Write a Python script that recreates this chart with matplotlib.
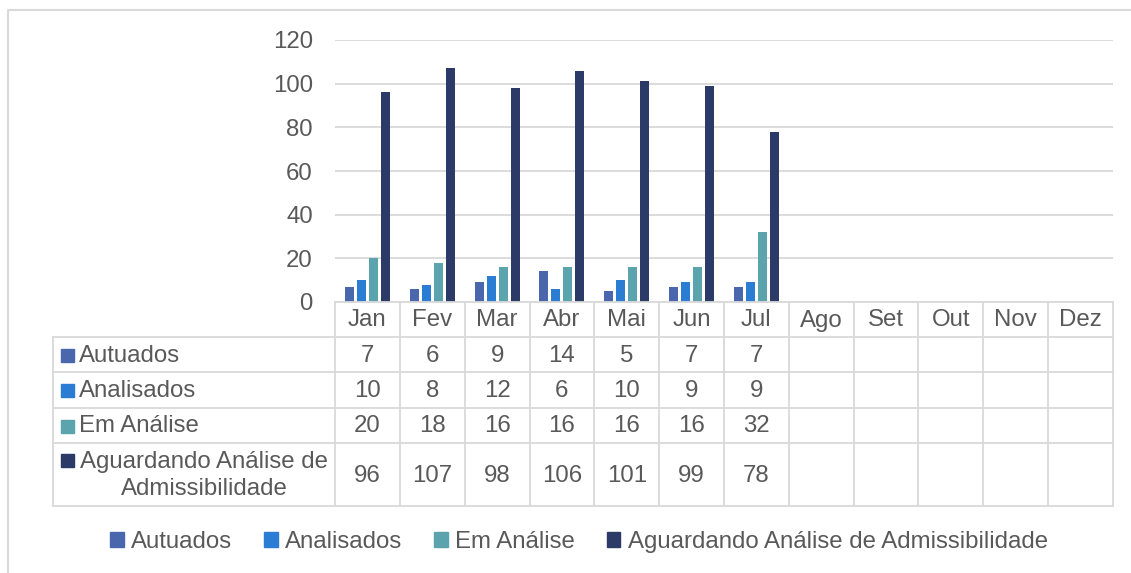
import numpy as np
import matplotlib.pyplot as plt
from matplotlib.patches import Patch, Rectangle
from matplotlib.lines import Line2D

# Data
months = ['Jan', 'Fev', 'Mar', 'Abr', 'Mai', 'Jun', 'Jul', 'Ago', 'Set', 'Out', 'Nov', 'Dez']
series = ['Autuados', 'Analisados', 'Em Análise', 'Aguardando Análise de Admissibilidade']
autuados = [7, 6, 9, 14, 5, 7, 7]
analisados = [10, 8, 12, 6, 10, 9, 9]
em_analise = [20, 18, 16, 16, 16, 16, 32]
aguardando = [96, 107, 98, 106, 101, 99, 78]
values = [autuados, analisados, em_analise, aguardando]
colors = ['#4a66ac', '#2b7cd3', '#5ba3ad', '#2b3a67']

W, H = 1131, 573
text_col = '#595959'
grid_col = '#d9d9d9'
fs = 17.3
plt.rcParams['font.family'] = ['Liberation Sans', 'DejaVu Sans']

fig = plt.figure(figsize=(W / 100, H / 100), dpi=100)

def px_axes(x0, y0, x1, y1):
    # pixel box (top-left origin) -> figure fraction axes
    return fig.add_axes([x0 / W, 1 - y1 / H, (x1 - x0) / W, (y1 - y0) / H])

# Outer frame (top and left edges)
fig.add_artist(Line2D([8 / W, 8 / W, 1.0], [0.0, 1 - 10 / H, 1 - 10 / H],
                      transform=fig.transFigure, color=grid_col, lw=1.5))

# Bar chart
ax = px_axes(335, 40, 1113, 302)
x = np.arange(len(months))
step, width = 0.185, 0.139
for k, (vals, col) in enumerate(zip(values, colors)):
    ax.bar(x[:len(vals)] + (k - 1.5) * step, vals, width, color=col, zorder=3)
ax.set_xlim(-0.5, len(months) - 0.5)
ax.set_ylim(0, 120)
ax.set_yticks(range(0, 121, 20))
ax.yaxis.grid(True, color=grid_col, lw=1.3)
ax.set_axisbelow(True)
ax.set_xticks([])
for s in ax.spines.values():
    s.set_visible(False)
ax.tick_params(axis='y', length=0, pad=16, labelsize=fs, labelcolor=text_col)

# Data table below
tab = px_axes(53, 302, 1113, 506)
ppc = 778 / 12
left = -0.5 - (335 - 53) / ppc
tab.set_xlim(left, len(months) - 0.5)
tab.set_ylim(204, 0)
tab.axis('off')
rows = [0, 35, 70, 106, 141, 204]
lw = 1.3
# horizontal lines
tab.plot([-0.5, len(months) - 0.5], [rows[0], rows[0]], color=grid_col, lw=lw, clip_on=False)
for r in rows[1:]:
    tab.plot([left, len(months) - 0.5], [r, r], color=grid_col, lw=lw, clip_on=False)
# vertical lines
for i in range(len(months) + 1):
    tab.plot([i - 0.5, i - 0.5], [rows[0], rows[-1]], color=grid_col, lw=lw, clip_on=False)
tab.plot([left, left], [rows[1], rows[-1]], color=grid_col, lw=lw, clip_on=False)

for i, m in enumerate(months):
    tab.text(i, (rows[0] + rows[1]) / 2 + 1, m, ha='center', va='center', fontsize=fs, color=text_col)

for k, (name, vals, col) in enumerate(zip(series, values, colors)):
    yc = (rows[k + 1] + rows[k + 2]) / 2 + 1
    if k < 3:
        tab.add_patch(Rectangle((left + 8 / ppc, yc - 7), 13 / ppc, 13, color=col))
        tab.text(left + 26 / ppc, yc, name, ha='left', va='center', fontsize=fs, color=text_col)
    else:
        tab.add_patch(Rectangle((left + 8 / ppc, 159 - 7), 13 / ppc, 13, color=col))
        tab.text(left + 151 / ppc, yc, 'Aguardando Análise de\nAdmissibilidade', ha='center',
                 va='center', multialignment='center', fontsize=fs, color=text_col,
                 linespacing=1.25)
    for i, v in enumerate(vals):
        tab.text(i, yc, str(v), ha='center', va='center', fontsize=fs, color=text_col)

# Legend
handles = [Patch(color=c, label=s) for c, s in zip(colors, series)]
fig.legend(handles=handles, loc='center', bbox_to_anchor=(579 / W, 1 - 542 / H), ncol=4,
           frameon=False, fontsize=fs, labelcolor=text_col, handlelength=0.55,
           handleheight=0.6, handletextpad=0.3, columnspacing=1.35)

fig.savefig('out.png', dpi=100)
